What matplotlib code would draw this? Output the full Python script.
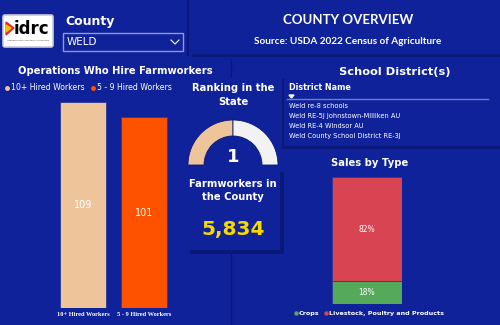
import matplotlib
matplotlib.use("Agg")
import matplotlib.pyplot as plt
from matplotlib.patches import Rectangle, Wedge, FancyBboxPatch, Polygon

# data
county = "WELD"
ops_labels = ["10+ Hired Workers", "5 - 9 Hired Workers"]
ops_values = [109, 101]
ops_colors = ["#EEC59B", "#FF5200"]
state_rank = 1
rank_max = 2  # gauge scale (estimated)
farmworkers = 5834
districts = ["Weld re-8 schools", "Weld RE-5J Johnstown-Milliken AU",
             "Weld RE-4 Windsor AU", "Weld County School District RE-3J"]
sales_labels = ["Crops", "Livestock, Poultry and Products"]
sales_pct = [18, 82]
sales_colors = ["#55A95A", "#D84452"]

BG = "#10229A"
DARK = "#0A1878"
W, H = 500, 325

fig = plt.figure(figsize=(5, 3.25), dpi=100, facecolor=BG)
bg = fig.add_axes([0, 0, 1, 1])
bg.set_xlim(0, W)
bg.set_ylim(H, 0)
bg.axis("off")


def px_axes(x0, y0, x1, y1):
    # axes from pixel box (top-left origin)
    return fig.add_axes([x0 / W, 1 - y1 / H, (x1 - x0) / W, (y1 - y0) / H])


# panel dividers and shadows
bg.plot([188, 188], [0, 55], color=DARK, lw=1.5)
bg.plot([193, 500], [55, 55], color=DARK, lw=2)
bg.plot([231, 231], [60, 325], color=DARK, lw=1)
bg.plot([283, 283], [80, 147], color=DARK, lw=1.5)
bg.plot([283, 500], [147, 147], color=DARK, lw=2)
bg.add_patch(Rectangle((185, 78), 97, 92, color=BG, ec="none", zorder=2))
bg.add_patch(Rectangle((190, 172), 94, 82, color=DARK, ec="none", zorder=2))
bg.add_patch(Rectangle((186, 168), 94, 82, color=BG, ec="none", zorder=3))

# logo
bg.add_patch(FancyBboxPatch((5, 17), 46, 28, boxstyle="round,pad=2",
                            fc="white", ec="#C8C8D8", lw=1.2))
bg.text(31, 29, "idrc", ha="center", va="center", fontsize=12,
        fontweight="bold", color="black")
bg.text(28, 40, "Interdisciplinary Research Consortium", ha="center",
        va="center", fontsize=1.6, color="#444444")
bg.add_patch(Polygon([[6, 22], [14, 28], [6, 35]], color="#E8262A"))
bg.add_patch(Polygon([[6, 25], [11, 28], [6, 32]], color="#F5C400"))

# county selector
bg.text(65, 22, "County", ha="left", va="center", fontsize=9,
        fontweight="bold", color="white")
bg.add_patch(Rectangle((63, 33), 120, 18, fc=BG, ec="#8E9AD8", lw=1))
bg.text(67, 42, county, ha="left", va="center", fontsize=7.5, color="white")
bg.plot([171, 175, 179], [40, 44, 40], color="white", lw=0.8)

# header
bg.text(348, 20, "COUNTY OVERVIEW", ha="center", va="center", fontsize=9.5,
        fontweight="bold", color="white", family="Lato")
bg.text(348, 41, "Source: USDA 2022 Census of Agriculture", ha="center",
        va="center", fontsize=7.2, fontweight="bold", color="white",
        family="Lato")

# operations bar chart
bg.text(115, 71, "Operations Who Hire Farmworkers", ha="center",
        va="center", fontsize=7.2, fontweight="bold", color="white")
for dx, tx, lab, col in zip([7, 93], [11, 97], ops_labels, ops_colors):
    bg.plot(dx, 88, "o", ms=2.5, color=col)
    bg.text(tx, 88, lab, ha="left", va="center", fontsize=5.6,
            color="white")

ax = px_axes(45, 100, 182, 308)
ax.set_facecolor("none")
xs = list(range(len(ops_values)))
ax.bar(xs, ops_values, width=0.75, color=ops_colors,
       edgecolor="#2A3A9C", lw=0.6)
for x, v in zip(xs, ops_values):
    ax.text(x, v / 2, str(v), ha="center", va="center", fontsize=7,
            color="white")
ax.set_xlim(-0.623, 1.623)
ax.set_ylim(0, 110)
ax.axis("off")
for x, lab in zip([83, 144], ops_labels):
    bg.text(x, 315, lab, ha="center", va="center", fontsize=4.6,
            fontweight="bold", color="white", family="Liberation Serif")

# ranking gauge
bg.text(233, 88, "Ranking in the", ha="center", va="center", fontsize=7.2,
        fontweight="bold", color="white", zorder=5)
bg.text(233, 102, "State", ha="center", va="center", fontsize=7.2,
        fontweight="bold", color="white", zorder=5)
gax = px_axes(183, 118, 283, 168)
gax.set_xlim(-50, 50)
gax.set_ylim(-3, 47)
gax.axis("off")
split = 180 - 180 * state_rank / rank_max
gax.add_patch(Wedge((0, 0), 45, split, 180, width=16, fc="#EEC59B",
                    ec=DARK, lw=0.6))
gax.add_patch(Wedge((0, 0), 45, 0, split, width=16, fc="#F2F2F2",
                    ec=DARK, lw=0.6))
gax.text(0, 8, str(state_rank), ha="center", va="center", fontsize=13,
         fontweight="bold", color="white")

# farmworkers card
bg.text(233, 184, "Farmworkers in", ha="center", va="center", fontsize=7.2,
        fontweight="bold", color="white", zorder=5)
bg.text(233, 197, "the County", ha="center", va="center", fontsize=7.2,
        fontweight="bold", color="white", zorder=5)
bg.text(233, 230, f"{farmworkers:,}", ha="center", va="center",
        fontsize=14.5, fontweight="bold", color="#F7D800", zorder=5)

# school districts
bg.text(395, 72, "School District(s)", ha="center", va="center",
        fontsize=8.2, fontweight="bold", color="white")
bg.text(289, 88, "District Name", ha="left", va="center", fontsize=5.8,
        fontweight="bold", color="white")
bg.add_patch(Polygon([[289, 95], [294, 95], [291.5, 98]], color="white"))
bg.plot([287, 488], [99, 99], color="#6C7BC8", lw=1)
for i, d in enumerate(districts):
    bg.text(289, 106 + i * 10, d, ha="left", va="center", fontsize=4.8,
            color="white")

# sales by type
bg.text(370, 163, "Sales by Type", ha="center", va="center", fontsize=7.2,
        fontweight="bold", color="white")
sax = px_axes(332, 177, 402, 304)
sax.set_xlim(-0.5, 0.5)
sax.set_ylim(0, 100)
sax.axis("off")
bottom = 0
for p, col in zip(sales_pct, sales_colors):
    sax.bar(0, p, bottom=bottom, width=1.0, color=col, edgecolor="#2A3A9C",
            lw=0.6)
    sax.text(0, bottom + p / 2, f"{p}%", ha="center", va="center",
             fontsize=5.5, color="white")
    bottom += p
for dx, tx, lab, col in zip([296, 326], [299, 329], sales_labels,
                            sales_colors):
    bg.plot(dx, 313, "o", ms=2.2, color=col)
    bg.text(tx, 313, lab, ha="left", va="center", fontsize=4.6,
            fontweight="bold", color="white")

fig.savefig("out.png", dpi=100, facecolor=BG)
